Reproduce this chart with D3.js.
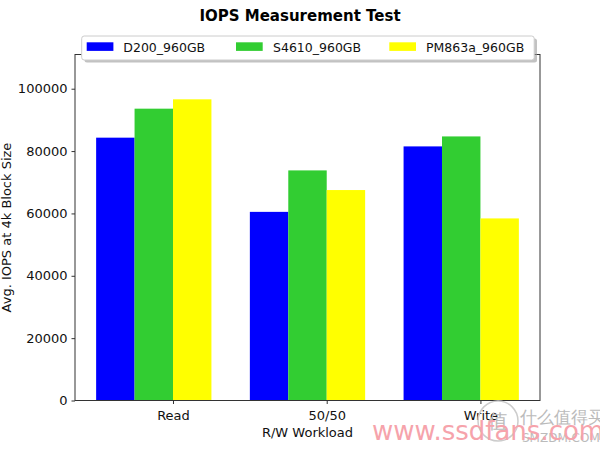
<!DOCTYPE html>
<html>
<head>
<meta charset="utf-8">
<script src="https://cdn.jsdelivr.net/npm/d3@7"></script>
<style>
  body { margin: 0; background: #fff; }
  svg { display: block; }
  text { font-family: "DejaVu Sans", sans-serif; }
</style>
</head>
<body>
<svg id="chart" width="600" height="450"></svg>
<script>
const categories = ["Read", "50/50", "Write"];
const seriesNames = ["D200_960GB", "S4610_960GB", "PM863a_960GB"];
const seriesColors = ["#0000ff", "#32cd32", "#ffff00"];
const d200 = [84300, 60500, 81500];
const s4610 = [93600, 73800, 84700];
const pm863a = [96600, 67500, 58400];
const yTicks = [0, 20000, 40000, 60000, 80000, 100000];
const seriesValues = [d200, s4610, pm863a];

const svg = d3.select("#chart");
const L = 75, R = 540, T = 54.5, B = 400.5;
const barW = 0.25;

const x = d3.scaleLinear().domain([-0.2625, 2.7625]).range([L, R]);
const y = d3.scaleLinear().domain([0, 110975]).range([B, T]);

// bars
seriesValues.forEach((vals, s) => {
  svg.append("g").selectAll("rect").data(vals).join("rect")
    .attr("x", (d, i) => x(i + s * barW - barW / 2))
    .attr("width", x(barW) - x(0))
    .attr("y", d => y(d))
    .attr("height", d => y(0) - y(d))
    .attr("fill", seriesColors[s]);
});

// frame
svg.append("rect").attr("x", L).attr("y", T).attr("width", R - L).attr("height", B - T)
  .attr("fill", "none").attr("stroke", "#333").attr("stroke-width", 1);

// y axis
const yAxis = d3.axisLeft(y).tickValues(yTicks).tickSize(3.5).tickPadding(4).tickFormat(d3.format("d"));
const gy = svg.append("g").attr("transform", `translate(${L},0)`).call(yAxis);
gy.select(".domain").remove();
gy.selectAll("line").attr("stroke", "#333");
gy.selectAll("text").attr("font-size", 13).attr("fill", "#111").attr("font-family", "DejaVu Sans");

// x axis
const xAxis = d3.axisBottom(x).tickValues(categories.map((c, i) => i + 0.375))
  .tickFormat((d, i) => categories[i]).tickSize(3.5).tickPadding(6.5);
const gx = svg.append("g").attr("transform", `translate(0,${B})`).call(xAxis);
gx.select(".domain").remove();
gx.selectAll("line").attr("stroke", "#333");
gx.selectAll("text").attr("font-size", 13).attr("fill", "#111").attr("font-family", "DejaVu Sans");

// axis labels
svg.append("text").attr("x", (L + R) / 2).attr("y", 437).attr("text-anchor", "middle")
  .attr("font-size", 13).attr("fill", "#111").text("R/W Workload");
svg.append("text").attr("transform", `translate(11,${(T + B) / 2}) rotate(-90)`)
  .attr("text-anchor", "middle").attr("font-size", 13).attr("fill", "#111")
  .text("Avg. IOPS at 4k Block Size");

// title
svg.append("text").attr("x", 300).attr("y", 21).attr("text-anchor", "middle")
  .attr("font-size", 15).attr("font-weight", "bold").attr("fill", "#000")
  .text("IOPS Measurement Test");

// legend
const lg = svg.append("g");
lg.append("rect").attr("x", 84.5).attr("y", 38.5).attr("width", 452.5).attr("height", 24)
  .attr("rx", 2.5).attr("fill", "#999").attr("opacity", 0.6);
lg.append("rect").attr("x", 81.7).attr("y", 36).attr("width", 452.5).attr("height", 24)
  .attr("rx", 2.5).attr("fill", "#fff").attr("stroke", "#ccc").attr("stroke-width", 1);
const handleX = [86.7, 236, 389.3];
const textX = [123.3, 273, 426];
seriesNames.forEach((n, i) => {
  lg.append("rect").attr("x", handleX[i]).attr("y", 42.3).attr("width", 26.7).attr("height", 8.6)
    .attr("fill", seriesColors[i]);
  lg.append("text").attr("x", textX[i]).attr("y", 51.5).attr("font-size", 12.5)
    .attr("fill", "#111").text(n);
});

// watermark
const wm = svg.append("g");
wm.append("circle").attr("cx", 498).attr("cy", 421).attr("r", 20)
  .attr("fill", "none").attr("stroke", "#ccc").attr("stroke-width", 1.5);
wm.append("text").attr("x", 498).attr("y", 428).attr("text-anchor", "middle")
  .attr("font-family", "Noto Sans CJK SC").attr("font-size", 20).attr("fill", "#bbb").text("值");
wm.append("text").attr("x", 520).attr("y", 423).attr("font-family", "Noto Sans CJK SC")
  .attr("font-size", 17).attr("fill", "#bbb").text("什么值得买");
wm.append("text").attr("x", 522).attr("y", 442).attr("font-family", "Liberation Sans")
  .attr("font-size", 12).attr("fill", "#bbb").text("SMZDM.COM");
wm.append("text").attr("x", 372).attr("y", 440).attr("font-family", "Liberation Sans")
  .attr("font-size", 26).attr("fill", "#f6a3ab").text("www.ssdfans.com");
</script>
</body>
</html>
